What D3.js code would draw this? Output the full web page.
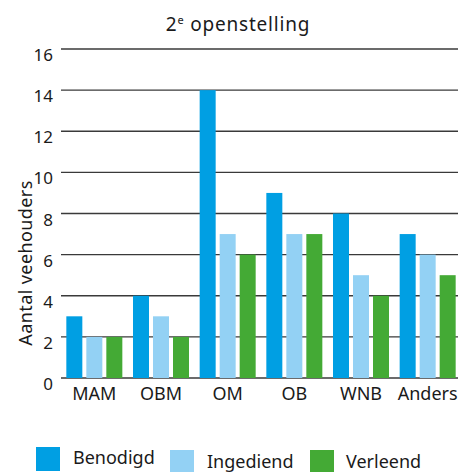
<!DOCTYPE html>
<html>
<head>
<meta charset="utf-8">
<script src="https://cdn.jsdelivr.net/npm/d3@7"></script>
<style>
  body { margin: 0; background: #fff; }
  text { font-family: "Noto Sans", "Open Sans", sans-serif; fill: #1a1a1a; }
</style>
</head>
<body>
<svg id="chart" width="458" height="472"></svg>
<script>
// data
const categories = ["MAM", "OBM", "OM", "OB", "WNB", "Anders"];
const seriesNames = ["Benodigd", "Ingediend", "Verleend"];
const benodigd = [3, 4, 14, 9, 8, 7];
const ingediend = [2, 3, 7, 7, 5, 6];
const verleend = [2, 2, 6, 7, 4, 5];
const yTicks = [0, 2, 4, 6, 8, 10, 12, 14, 16];

const colors = ["#009fe3", "#93d1f4", "#44aa35"];
const seriesValues = [benodigd, ingediend, verleend];

var svg = d3.select("#chart");

var x0 = d3.scaleBand()
  .domain(categories)
  .range([61, 461])
  .paddingInner(0.16)
  .paddingOuter(0.08);

var x1 = d3.scaleBand()
  .domain(seriesNames)
  .range([0, x0.bandwidth()])
  .paddingInner(0.2);

var y = d3.scaleLinear()
  .domain([0, 16])
  .range([378, 49]);

var color = d3.scaleOrdinal().domain(seriesNames).range(colors);

// title
var title = svg.append("text")
  .attr("x", 238)
  .attr("y", 31)
  .attr("text-anchor", "middle")
  .style("font-size", "19px")
  .style("letter-spacing", "0.8px");
title.append("tspan").text("2");
title.append("tspan").text("e").style("font-size", "11px").attr("dy", -7);
title.append("tspan").text(" openstelling").attr("dy", 7);

// grid
svg.append("g")
  .selectAll("line")
  .data(yTicks)
  .join("line")
  .attr("x1", 61)
  .attr("x2", 458)
  .attr("y1", d => y(d))
  .attr("y2", d => y(d))
  .attr("stroke", "#3a3a3a")
  .attr("stroke-width", 1.4);

// y tick labels
svg.append("g")
  .selectAll("text")
  .data(yTicks)
  .join("text")
  .attr("x", 53)
  .attr("y", d => y(d) + 12)
  .attr("text-anchor", "end")
  .style("font-size", "17px")
  .text(d => d);

// y title
svg.append("text")
  .attr("transform", "translate(32,263) rotate(-90)")
  .attr("text-anchor", "middle")
  .style("font-size", "18px")
  .style("letter-spacing", "0.4px")
  .text("Aantal veehouders");

// bars
var rows = categories.map((c, i) => ({
  cat: c,
  vals: seriesNames.map((s, j) => ({ key: s, value: seriesValues[j][i] }))
}));

svg.append("g")
  .selectAll("g")
  .data(rows)
  .join("g")
  .attr("transform", d => "translate(" + x0(d.cat) + ",0)")
  .selectAll("rect")
  .data(d => d.vals)
  .join("rect")
  .attr("x", d => x1(d.key))
  .attr("width", x1.bandwidth())
  .attr("y", d => y(d.value))
  .attr("height", d => y(0) - y(d.value))
  .attr("fill", d => color(d.key));

// category labels
svg.append("g")
  .selectAll("text")
  .data(categories)
  .join("text")
  .attr("x", d => x0(d) + x0.bandwidth() / 2)
  .attr("y", 400)
  .attr("text-anchor", "middle")
  .style("font-size", "18px")
  .text(d => d);

// legend
var legendPos = [
  { x: 36, y: 447, tx: 73, ty: 464 },
  { x: 170, y: 450, tx: 207, ty: 468 },
  { x: 310, y: 450, tx: 346, ty: 468 }
];
var legend = svg.append("g")
  .selectAll("g")
  .data(seriesNames)
  .join("g");
legend.append("rect")
  .attr("x", (d, i) => legendPos[i].x)
  .attr("y", (d, i) => legendPos[i].y)
  .attr("width", 24)
  .attr("height", 24)
  .attr("fill", d => color(d));
legend.append("text")
  .attr("x", (d, i) => legendPos[i].tx)
  .attr("y", (d, i) => legendPos[i].ty)
  .style("font-size", "18px")
  .text(d => d);
</script>
</body>
</html>
